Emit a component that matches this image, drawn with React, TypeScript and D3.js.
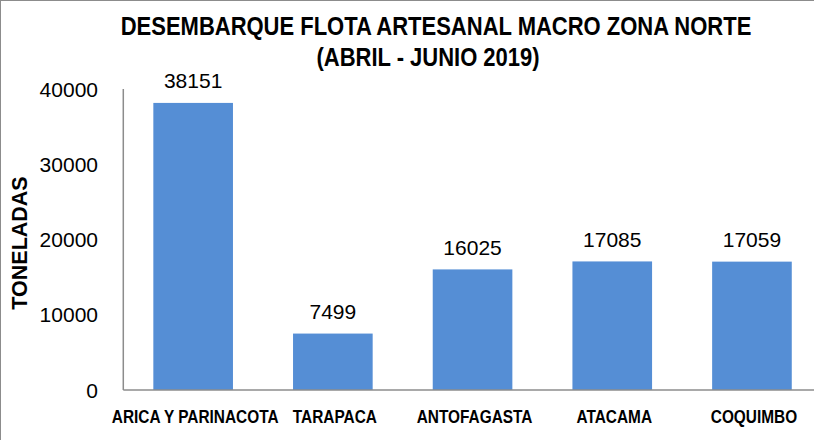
import React, { useEffect, useRef } from "react";
import * as d3 from "d3";

const categories = ["ARICA Y PARINACOTA", "TARAPACA", "ANTOFAGASTA", "ATACAMA", "COQUIMBO"];
const values = [38151, 7499, 16025, 17085, 17059];
const yTicks = [0, 10000, 20000, 30000, 40000];
const titleLines = ["DESEMBARQUE FLOTA ARTESANAL MACRO ZONA NORTE", "(ABRIL - JUNIO 2019)"];
const yTitle = "TONELADAS";

const W = 814;
const H = 440;
const FONT = "'Liberation Sans', Arial, sans-serif";
// the original uses a narrow bold face, so the bold texts get squeezed horizontally
const NARROW = 0.88;

export default function App() {
  const ref = useRef<SVGSVGElement>(null);

  useEffect(() => {
    const svg = d3.select(ref.current);
    svg.selectAll("*").remove();

    const left = 123.3, top = 89, bottom = 390;
    const x = d3.scaleBand().domain(categories).range([left, left + 698.5]).paddingInner(0.43).paddingOuter(0.215);
    const y = d3.scaleLinear().domain([0, 40000]).range([bottom, top]);

    svg.append("rect").attr("width", W).attr("height", H).attr("fill", "#fff");
    // frame of the chart area
    svg.append("rect").attr("x", 0.5).attr("y", 0.5).attr("width", W + 10).attr("height", H + 10)
      .attr("fill", "none").attr("stroke", "#8c8c8c");

    const titlePos = [[436, 35], [428, 66]];
    titleLines.forEach((t, i) => {
      svg.append("text")
        .attr("transform", `translate(${titlePos[i][0]},${titlePos[i][1]}) scale(${NARROW},1)`)
        .attr("text-anchor", "middle").attr("font-family", FONT).attr("font-weight", "bold")
        .attr("font-size", 25).attr("fill", "#000")
        .text(t);
    });

    svg.append("g").selectAll("rect").data(values).join("rect")
      .attr("x", (d, i) => x(categories[i])!)
      .attr("y", d => y(d))
      .attr("width", x.bandwidth())
      .attr("height", d => bottom - y(d))
      .attr("fill", "#558ED5");

    svg.append("g").selectAll("text").data(values).join("text")
      .attr("x", (d, i) => x(categories[i])! + x.bandwidth() / 2)
      .attr("y", d => y(d) - 14.5)
      .attr("text-anchor", "middle").attr("font-family", FONT).attr("font-size", 21)
      .text(d => d);

    // axes
    svg.append("line").attr("x1", left).attr("x2", left).attr("y1", top).attr("y2", bottom)
      .attr("stroke", "#8c8c8c").attr("stroke-width", 1.5);
    svg.append("line").attr("x1", left).attr("x2", W).attr("y1", bottom).attr("y2", bottom)
      .attr("stroke", "#8c8c8c").attr("stroke-width", 1.5);

    svg.append("g").selectAll("text").data(yTicks).join("text")
      .attr("x", 98).attr("y", d => y(d) + 7.5)
      .attr("text-anchor", "end").attr("font-family", FONT).attr("font-size", 21)
      .text(d => d);

    svg.append("g").selectAll("text").data(categories).join("text")
      .attr("transform", d => `translate(${x(d)! + x.bandwidth() / 2 + 2},423) scale(${NARROW},1)`)
      .attr("text-anchor", "middle").attr("font-family", FONT).attr("font-weight", "bold").attr("font-size", 17.5)
      .text(d => d);

    svg.append("text")
      .attr("transform", `translate(27,243) rotate(-90)`)
      .attr("text-anchor", "middle").attr("font-family", FONT).attr("font-weight", "bold").attr("font-size", 21.5)
      .text(yTitle);
  }, []);

  return <svg ref={ref} width={W} height={H} style={{ position: "absolute", left: 0, top: 0, display: "block" }} />;
}
